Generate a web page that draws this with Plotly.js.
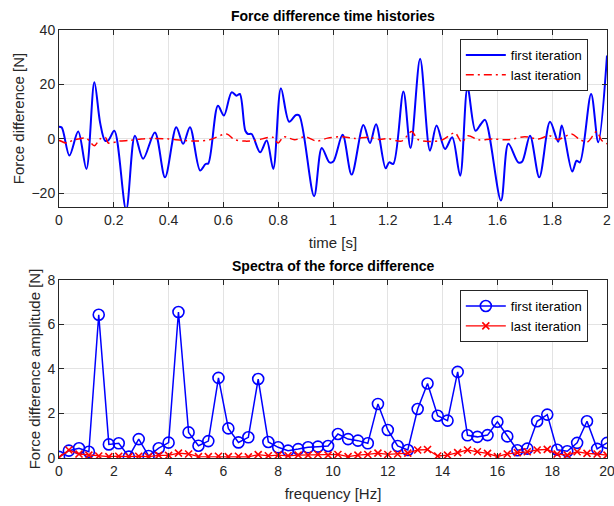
<!DOCTYPE html>
<html>
<head>
<meta charset="utf-8">
<script src="https://cdn.plot.ly/plotly-3.0.1.min.js"></script>
<style>html,body{margin:0;padding:0;background:#fff;}#chart{width:614px;height:506px;}</style>
</head>
<body>
<div id="chart"></div>
<script>
// ---- Time history data ----
var timeFirst = [0, 0.01, 0.038, 0.07, 0.10, 0.129, 0.15, 0.168, 0.18, 0.202, 0.245, 0.277, 0.307, 0.35, 0.387, 0.428, 0.453, 0.478, 0.515, 0.535, 0.545, 0.58, 0.602, 0.63, 0.648, 0.66, 0.68, 0.69, 0.703, 0.734, 0.758, 0.782, 0.81, 0.84, 0.865, 0.877, 0.931, 0.959, 0.987, 1.001, 1.035, 1.068, 1.111, 1.135, 1.157, 1.192, 1.205, 1.22, 1.257, 1.283, 1.318, 1.354, 1.378, 1.409, 1.435, 1.464, 1.491, 1.52, 1.54, 1.555, 1.613, 1.64, 1.676, 1.69, 1.719, 1.753, 1.792, 1.822, 1.835, 1.873, 1.889, 1.901, 1.942, 1.968, 2.0];
var forceFirst = [4.5, 4.2, -6.1, 2.7, -11, 20.8, 6, -0.6, -0.5, 3.0, -26, 1.2, -7.3, 2.4, -14.1, 4.3, -1.8, 4.3, -11.6, -9.2, -9.0, 12.2, 8.6, 17.1, 15.9, 16.5, 3, 1.8, 1.8, -4.9, -0.6, -11, 18.6, 6.3, 8.8, 8.6, -21, -3.3, -8.6, -8.3, 1.5, -13.1, 5.1, -1.5, 5.4, -10.8, -8.6, -9.2, 17.4, -3.3, 29.4, -4.3, 4.9, -3.7, 0.6, -13.5, 18.9, 3.0, 5.5, 7.0, -22.6, -1.8, -8.6, -8.4, 1.2, -14.1, 6.3, -1.0, 4.9, -12.0, -8.0, -8.6, 16.5, -1.2, 30.6];

var timeLast = [0, 0.03, 0.05, 0.07, 0.1, 0.129, 0.15, 0.17, 0.18, 0.22, 0.26, 0.3, 0.35, 0.4, 0.45, 0.5, 0.55, 0.612, 0.64, 0.68, 0.72, 0.78, 0.8, 0.82, 0.86, 0.898, 0.94, 0.98, 1.03, 1.08, 1.13, 1.17, 1.2, 1.25, 1.287, 1.31, 1.35, 1.4, 1.445, 1.47, 1.493, 1.53, 1.58, 1.64, 1.7, 1.75, 1.79, 1.82, 1.871, 1.9, 1.93, 1.962, 1.98, 2.0];
var forceLast = [-0.5, -1.5, -0.5, 0, 0.2, -2.5, 0, 0.5, -1.5, -0.8, -0.5, 0, 0.2, 0, -0.5, -0.8, -0.3, 1.8, -0.2, -0.8, -0.5, 0.6, -1.5, 0.8, -0.3, 0.8, -0.8, 0.3, 0.8, 0.2, 0.6, -0.2, 0.1, -0.8, 2.7, -0.2, -0.9, -0.3, 2.2, -1.2, 1.2, -0.3, 0, -0.3, 0.8, 0, 1.2, -0.2, 1.8, -0.2, -1.0, 2.7, -0.5, -1.8];

// ---- Spectrum data ----
var freq = [0, 0.36, 0.73, 1.09, 1.45, 1.82, 2.18, 2.55, 2.91, 3.27, 3.64, 4.00, 4.36, 4.73, 5.09, 5.45, 5.82, 6.18, 6.55, 6.91, 7.27, 7.64, 8.00, 8.36, 8.73, 9.09, 9.45, 9.82, 10.18, 10.55, 10.91, 11.27, 11.64, 12.00, 12.36, 12.73, 13.09, 13.45, 13.82, 14.18, 14.55, 14.91, 15.27, 15.64, 16.00, 16.36, 16.73, 17.09, 17.45, 17.82, 18.18, 18.55, 18.91, 19.27, 19.64, 20.00];
var ampFirst = [0.05, 0.33, 0.44, 0.28, 6.44, 0.61, 0.66, 0.06, 0.85, 0.09, 0.44, 0.69, 6.56, 1.15, 0.55, 0.76, 3.6, 1.33, 0.70, 0.93, 3.55, 0.72, 0.48, 0.33, 0.40, 0.48, 0.51, 0.54, 1.08, 0.85, 0.78, 0.66, 2.43, 1.26, 0.54, 0.36, 2.2, 3.35, 1.9, 1.68, 3.87, 1.02, 0.95, 1.03, 1.63, 0.97, 0.35, 0.42, 1.65, 1.95, 0.37, 0.3, 0.68, 1.65, 0.41, 0.68];
var ampLast = [0.02, 0.36, 0.18, 0.13, 0.09, 0.06, 0.08, 0.06, 0.08, 0.06, 0.12, 0.12, 0.22, 0.18, 0.06, 0.06, 0.08, 0.06, 0.08, 0.05, 0.15, 0.1, 0.13, 0.1, 0.13, 0.13, 0.16, 0.13, 0.16, 0.06, 0.13, 0.16, 0.22, 0.16, 0.18, 0.22, 0.36, 0.38, 0.09, 0.13, 0.24, 0.36, 0.28, 0.21, 0.06, 0.18, 0.24, 0.28, 0.36, 0.39, 0.18, 0.13, 0.28, 0.21, 0.18, 0.13];

var seriesNames = ['first iteration', 'last iteration'];
var titles = ['Force difference time histories', 'Spectra of the force difference'];
var xLabels = ['time [s]', 'frequency [Hz]'];
var yLabels = ['Force difference [N]', 'Force difference amplitude [N]'];

var BLUE = '#0000ff', RED = '#ff0000';
var FONT = 'Liberation Sans, Arial, sans-serif';

var traces = [
  {x: timeFirst, y: forceFirst, type: 'scatter', mode: 'lines', name: seriesNames[0],
   line: {color: BLUE, width: 2, shape: 'spline', smoothing: 0.9}, xaxis: 'x', yaxis: 'y', legend: 'legend'},
  {x: timeLast, y: forceLast, type: 'scatter', mode: 'lines', name: seriesNames[1],
   line: {color: RED, width: 1.5, shape: 'spline', smoothing: 0.9, dash: '8px,4px,2px,4px'}, xaxis: 'x', yaxis: 'y', legend: 'legend'},
  {x: freq, y: ampFirst, type: 'scatter', mode: 'lines+markers', name: seriesNames[0],
   line: {color: BLUE, width: 1.5}, marker: {symbol: 'circle-open', size: 11, color: BLUE, line: {width: 1.6, color: BLUE}},
   xaxis: 'x2', yaxis: 'y2', legend: 'legend2', cliponaxis: true},
  {x: freq, y: ampLast, type: 'scatter', mode: 'lines+markers', name: seriesNames[1],
   line: {color: RED, width: 1.3}, marker: {symbol: 'x-thin', size: 7, color: RED, line: {width: 1.6, color: RED}},
   xaxis: 'x2', yaxis: 'y2', legend: 'legend2', cliponaxis: true}
];

var axCommon = {
  showline: true, linecolor: '#262626', linewidth: 1, mirror: 'ticks',
  ticks: 'inside', ticklen: 5, tickcolor: '#262626', tickwidth: 1,
  showgrid: true, gridcolor: '#e3e3e3', gridwidth: 1, zeroline: false,
  ticklabeloverflow: 'allow',
  tickfont: {family: FONT, size: 14, color: '#262626'}
};
function ax(extra) { return Object.assign({}, axCommon, extra); }

var legendCommon = {
  bgcolor: '#ffffff', bordercolor: '#262626', borderwidth: 1,
  font: {family: FONT, size: 13, color: '#000'}, xanchor: 'right', yanchor: 'top',
  tracegroupgap: 0, itemwidth: 40
};

var layout = {
  width: 614, height: 506,
  margin: {l: 59, r: 7, t: 30, b: 48},
  paper_bgcolor: '#ffffff', plot_bgcolor: '#ffffff',
  showlegend: true,
  xaxis: ax({domain: [0, 1], range: [0, 2], tickvals: [0, 0.2, 0.4, 0.6, 0.8, 1, 1.2, 1.4, 1.6, 1.8, 2],
    ticktext: ['0', '0.2', '0.4', '0.6', '0.8', '1', '1.2', '1.4', '1.6', '1.8', '2'], anchor: 'y',
    title: {text: xLabels[0], font: {family: FONT, size: 15, color: '#262626'}, standoff: 10}}),
  yaxis: ax({domain: [0.5864, 1], range: [-25, 40], tickvals: [-20, 0, 20, 40], anchor: 'x',
    title: {text: yLabels[0], font: {family: FONT, size: 15, color: '#262626'}, standoff: 3}}),
  xaxis2: ax({domain: [0, 1], range: [0, 20], tickvals: [0, 2, 4, 6, 8, 10, 12, 14, 16, 18, 20], anchor: 'y2',
    title: {text: xLabels[1], font: {family: FONT, size: 15, color: '#262626'}, standoff: 10}}),
  yaxis2: ax({domain: [0, 0.4159], range: [0, 8], tickvals: [0, 2, 4, 6, 8], anchor: 'x2',
    title: {text: yLabels[1], font: {family: FONT, size: 15, color: '#262626'}, standoff: 3}}),
  legend: Object.assign({}, legendCommon, {x: 0.965, y: 0.979}),
  legend2: Object.assign({}, legendCommon, {x: 0.965, y: 0.3925}),
  annotations: [
    {text: '<b>' + titles[0] + '</b>', xref: 'paper', yref: 'paper', x: 0.5, y: 1, yshift: 4,
     xanchor: 'center', yanchor: 'bottom', showarrow: false, font: {family: FONT, size: 14, color: '#000'}},
    {text: '<b>' + titles[1] + '</b>', xref: 'paper', yref: 'paper', x: 0.5, y: 0.4159, yshift: 4,
     xanchor: 'center', yanchor: 'bottom', showarrow: false, font: {family: FONT, size: 14, color: '#000'}}
  ]
};

Plotly.newPlot('chart', traces, layout, {displayModeBar: false, staticPlot: true});
</script>
</body>
</html>
